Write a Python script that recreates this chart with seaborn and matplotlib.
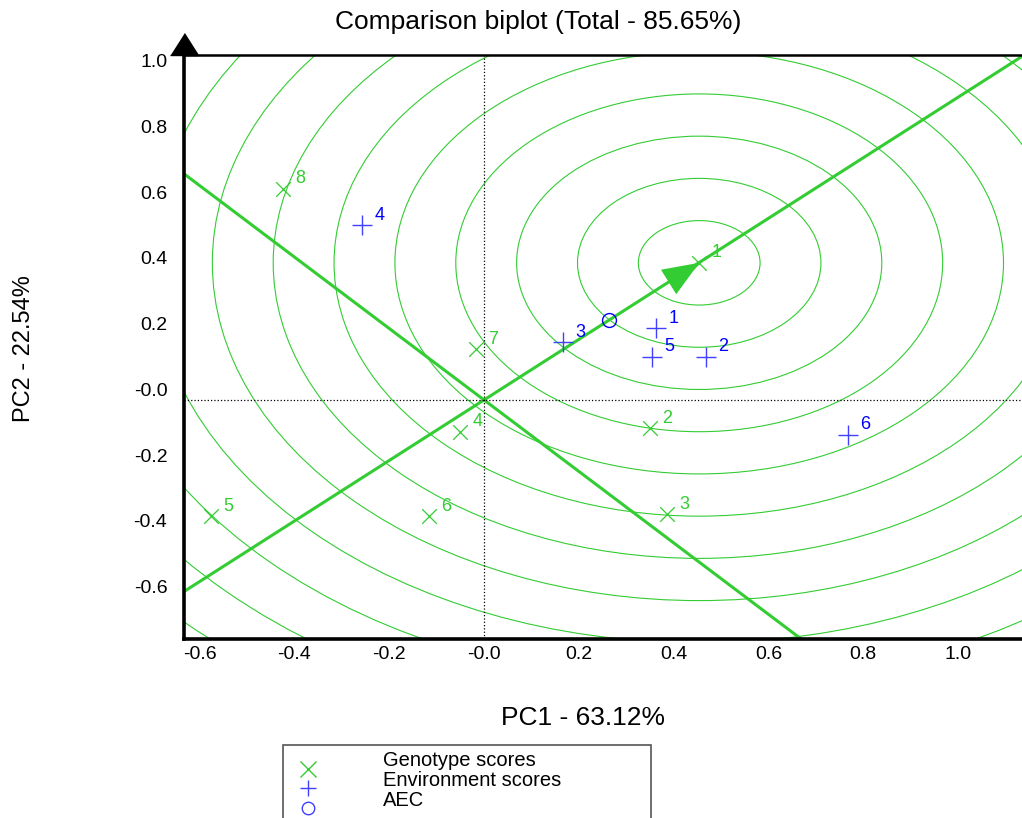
import matplotlib
matplotlib.use("Agg")
import matplotlib.pyplot as plt
from matplotlib.patches import Circle, Rectangle
from matplotlib.lines import Line2D
import seaborn as sns
import numpy as np
import pandas as pd

# Genotype scores (PC1, PC2)
gen_labels = ["1", "2", "3", "4", "5", "6", "7", "8"]
gen_pc1 = [0.454, 0.350, 0.386, -0.051, -0.576, -0.116, -0.017, -0.424]
gen_pc2 = [0.417, -0.085, -0.347, -0.097, -0.353, -0.353, 0.155, 0.642]

# Environment scores (PC1, PC2)
env_labels = ["1", "2", "3", "4", "5", "6"]
env_pc1 = [0.363, 0.468, 0.167, -0.257, 0.354, 0.768]
env_pc2 = [0.219, 0.131, 0.176, 0.532, 0.131, -0.106]

# average environment coordinate and ideal genotype (ring centre)
aec = [0.264, 0.243]
ideal = [0.454, 0.417]
ring_step = 0.1284
n_rings = 14

xticks = [-0.6, -0.4, -0.2, 0.0, 0.2, 0.4, 0.6, 0.8, 1.0]
xtick_labels = ["-0.6", "-0.4", "-0.2", "-0.0", "0.2", "0.4", "0.6", "0.8", "1.0"]
yticks = [-0.6, -0.4, -0.2, 0.0, 0.2, 0.4, 0.6, 0.8, 1.0]
ytick_labels = ["-0.6", "-0.4", "-0.2", "-0.0", "0.2", "0.4", "0.6", "0.8", "1.0"]

green = "#33cc33"
blue_txt = "#0000ff"
blue_mk = "#4040ff"

sns.set_style("white")
plt.rcParams["font.family"] = ["Liberation Sans", "DejaVu Sans"]
plt.rcParams["text.color"] = "black"
plt.rcParams["xtick.color"] = "black"
plt.rcParams["ytick.color"] = "black"

fig = plt.figure(figsize=(10.22, 8.18), dpi=100)
ax = fig.add_axes([184 / 1022, 1 - 639 / 818, (1022 - 184) / 1022, (639 - 55) / 818])
ax.set_xlim(-0.633, 1.135)
ax.set_ylim(-0.727, 1.049)

# concentric rings around the ideal genotype
for k in range(1, n_rings + 1):
    ax.add_patch(Circle(ideal, k * ring_step, fill=False, ec=green, lw=0.8, zorder=1))

# AEC axis and its perpendicular through the origin
ax.axline((0, 0), (aec[0], aec[1]), color=green, lw=2.2, zorder=2)
ax.axline((0, 0), slope=-aec[0] / aec[1], color=green, lw=2.2, zorder=2)
ax.annotate("", xy=ideal, xytext=(-24, -15), textcoords="offset points",
            arrowprops=dict(arrowstyle="-|>,head_length=2.0,head_width=0.8",
                            mutation_scale=13, color=green, lw=0,
                            shrinkA=0, shrinkB=0), zorder=3)

# origin dotted lines
ax.axvline(0, color="black", ls=":", lw=0.9, zorder=2)
ax.axhline(0, color="black", ls=":", lw=0.9, zorder=2)

gen = pd.DataFrame({"PC1": gen_pc1, "PC2": gen_pc2, "lab": gen_labels})
env = pd.DataFrame({"PC1": env_pc1, "PC2": env_pc2, "lab": env_labels})

sns.scatterplot(data=gen, x="PC1", y="PC2", marker="x", color=green, s=110,
                linewidth=0.9, ax=ax, zorder=4)
sns.scatterplot(data=env, x="PC1", y="PC2", marker="+", color=blue_mk, s=200,
                linewidth=1.0, ax=ax, zorder=4)
ax.plot(aec[0], aec[1], marker="o", ms=10, mfc="none", mec=blue_txt, mew=1.0,
        ls="none", zorder=4)

for _, r in gen.iterrows():
    ax.annotate(r["lab"], (r["PC1"], r["PC2"]), xytext=(9, 1), textcoords="offset points",
                ha="left", va="bottom", color=green, fontsize=13, zorder=5)
for _, r in env.iterrows():
    ax.annotate(r["lab"], (r["PC1"], r["PC2"]), xytext=(9, 1), textcoords="offset points",
                ha="left", va="bottom", color=blue_txt, fontsize=13, zorder=5)

ax.set_xticks(xticks)
ax.set_xticklabels(xtick_labels)
ax.set_yticks(yticks)
ax.set_yticklabels(ytick_labels, va="bottom")
ax.tick_params(axis="both", length=0, labelsize=14, labelcolor="black")
ax.tick_params(axis="x", pad=5)
ax.tick_params(axis="y", pad=12)
ax.set_xlabel("")
ax.set_ylabel("")
ax.grid(False)

for side in ["left", "bottom"]:
    ax.spines[side].set_color("black")
    ax.spines[side].set_linewidth(2.6)
ax.spines["top"].set_color("black")
ax.spines["top"].set_linewidth(1.8)
ax.spines["right"].set_visible(False)

# black arrow head on top of PC2 axis
ax.plot([0], [1], transform=ax.transAxes, marker=[(-14, 0), (14, 0), (0, 22)],
        ms=31.5, color="black", clip_on=False, zorder=6)

fig.text(538 / 1022, 1 - 22 / 818, "Comparison biplot (Total - 85.65%)",
         ha="center", va="center", fontsize=19, color="black")
fig.text(583 / 1022, 1 - 718 / 818, "PC1 - 63.12%", ha="center", va="center",
         fontsize=19, color="black")
fig.text(24 / 1022, 1 - 349 / 818, "PC2 - 22.54%", ha="center", va="center",
         rotation=90, fontsize=17, color="black")

# legend box
fig.patches.append(Rectangle((283 / 1022, -0.05), (651 - 283) / 1022, 0.05 + (818 - 745) / 818,
                             transform=fig.transFigure, fill=False, ec="#555555", lw=1.2))
leg_items = [("x", green, "Genotype scores", 769, 761),
             ("+", blue_mk, "Environment scores", 788, 780),
             ("o", blue_mk, "AEC", 808, 800)]
for mk, col, txt, ym, yt in leg_items:
    fig.lines.append(Line2D([308 / 1022], [1 - ym / 818], transform=fig.transFigure,
                            marker=mk, ms=11 if mk != "o" else 9, mfc="none", mec=col,
                            mew=1.0, ls="none"))
    fig.text(383 / 1022, 1 - yt / 818, txt, ha="left", va="center", fontsize=14.5,
             color="black")

fig.savefig("out.png", dpi=100)
